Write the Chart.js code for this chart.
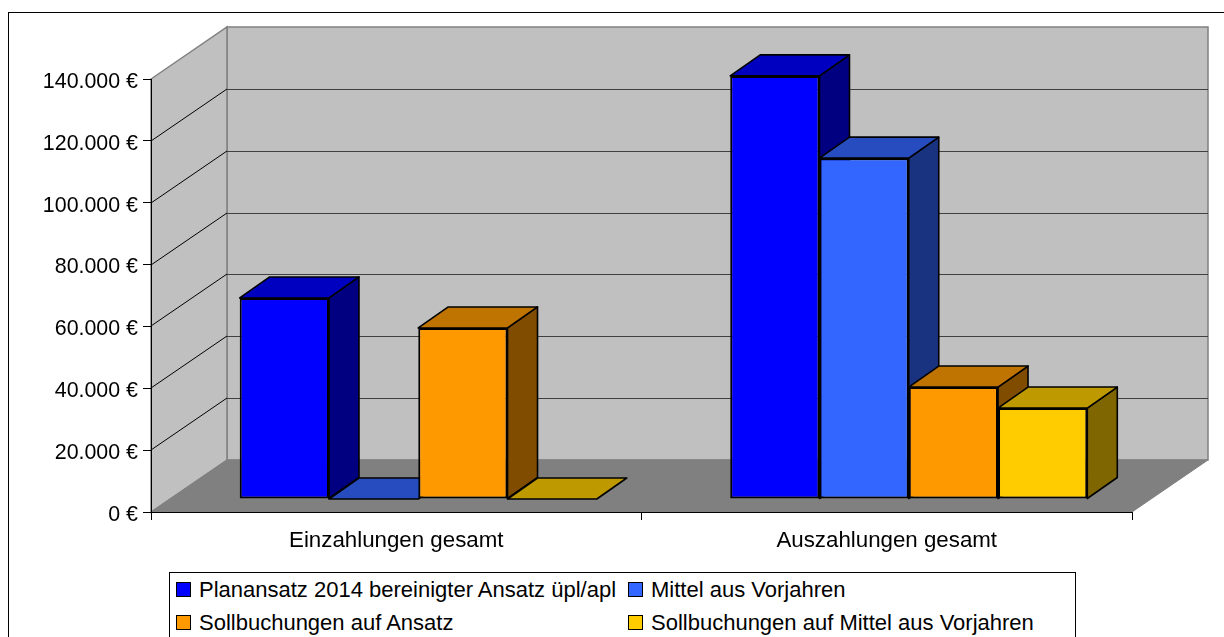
<!DOCTYPE html>
<html>
<head>
<meta charset="utf-8">
<script src="https://cdn.jsdelivr.net/npm/chart.js@4"></script>
<style>
  html, body { margin: 0; padding: 0; background: #fff; width: 1224px; height: 637px; overflow: hidden; }
  #frame { position: absolute; left: 8px; top: 12px; width: 1400px; height: 800px; border: 1px solid #000; }
  canvas { position: absolute; left: 0; top: 0; }
  #legend { position: absolute; left: 169px; top: 572px; width: 905px; height: 80px; border: 1px solid #000; background: #fff;
    font: 22px "Liberation Sans", Arial, sans-serif; color: #000; }
  #legend div { position: absolute; white-space: nowrap; line-height: 24px; }
  #legend i { position: absolute; left: -23px; top: 4px; width: 13px; height: 13px; border: 1px solid #000; }
</style>
</head>
<body>
<div id="frame"></div>
<canvas id="chart" width="1224" height="637"></canvas>
<div id="legend"></div>
<script>
// values
const categories = ['Einzahlungen gesamt', 'Auszahlungen gesamt'];
const seriesNames = ['Planansatz 2014 bereinigter Ansatz üpl/apl', 'Mittel aus Vorjahren', 'Sollbuchungen auf Ansatz', 'Sollbuchungen auf Mittel aus Vorjahren'];
const planansatz = [65000, 136800];
const mittelVorjahre = [0, 110200];
const sollAnsatz = [55300, 36200];
const sollMittel = [0, 29400];
const seriesValues = [planansatz, mittelVorjahre, sollAnsatz, sollMittel];

const frontColors = ['#0000ff', '#3366ff', '#ff9900', '#ffcc00'];
const topColors = ['#0000c0', '#264cbf', '#bf7300', '#bf9900'];
const sideColors = ['#000080', '#1a3380', '#804c00', '#806600'];

// fake 3d geometry, in pixels
const wallDepth = { x: 76, y: -52 };
const barShift = { x: 22, y: -13 };
const barDepth = { x: 30, y: -21 };

function poly(ctx, pts, fill, stroke, width) {
  ctx.beginPath();
  pts.forEach((p, i) => i ? ctx.lineTo(p[0], p[1]) : ctx.moveTo(p[0], p[1]));
  ctx.closePath();
  if (fill) { ctx.fillStyle = fill; ctx.fill(); }
  if (stroke) { ctx.strokeStyle = stroke; ctx.lineWidth = width; ctx.stroke(); }
}

const walls = {
  id: 'walls',
  beforeDraw(chart) {
    const ctx = chart.ctx, x = chart.scales.x, y = chart.scales.y;
    const l = x.left, r = x.right, b = y.getPixelForValue(0), t = y.getPixelForValue(140000);
    const dx = wallDepth.x, dy = wallDepth.y;
    ctx.save();
    poly(ctx, [[l + dx, t + dy], [r + dx, t + dy], [r + dx, b + dy], [l + dx, b + dy]], '#c0c0c0', '#808080', 1.5);
    poly(ctx, [[l, t], [l + dx, t + dy], [l + dx, b + dy], [l, b]], '#c0c0c0', '#808080', 1.5);
    poly(ctx, [[l, b], [l + dx, b + dy], [r + dx, b + dy], [r, b]], '#808080', '#808080', 1);
    y.ticks.forEach(tick => {
      if (tick.value === 0 || tick.value === 140000) return;
      const py = Math.round(y.getPixelForValue(tick.value));
      ctx.beginPath();
      ctx.moveTo(l, py);
      ctx.lineTo(l + dx, py + dy);
      ctx.strokeStyle = '#000';
      ctx.lineWidth = 1;
      ctx.stroke();
      ctx.beginPath();
      ctx.moveTo(l + dx, py + dy + 0.5);
      ctx.lineTo(r + dx, py + dy + 0.5);
      ctx.strokeStyle = '#404040';
      ctx.lineWidth = 1.2;
      ctx.stroke();
    });
    ctx.restore();
  }
};

// draws bars left to right, each with its top and side face behind the front
const bars3d = {
  id: 'bars3d',
  beforeDatasetsDraw(chart) {
    const ctx = chart.ctx, dx = barDepth.x, dy = barDepth.y;
    ctx.save();
    ctx.translate(barShift.x, barShift.y);
    chart.data.datasets.forEach((ds, i) => {
      const meta = chart.getDatasetMeta(i);
      meta.data.forEach(bar => {
        const l = bar.x - bar.width / 2, r = bar.x + bar.width / 2, t = bar.y, b = bar.base;
        ctx.lineJoin = 'round';
        if (b - t > 0.5) {
          poly(ctx, [[r, t], [r + dx, t + dy], [r + dx, b + dy], [r, b]], sideColors[i], '#000', 1.6);
        }
        poly(ctx, [[l, t], [r, t], [r + dx, t + dy], [l + dx, t + dy]], topColors[i], '#000', 1.6);
      });
      meta.controller.draw();
    });
    ctx.restore();
    return false;
  }
};

new Chart(document.getElementById('chart'), {
  type: 'bar',
  data: {
    labels: categories,
    datasets: seriesNames.map((name, i) => ({
      label: name,
      data: seriesValues[i],
      backgroundColor: frontColors[i],
      borderColor: '#000',
      borderWidth: 2,
      borderSkipped: false,
      categoryPercentage: 0.728,
      barPercentage: 1
    }))
  },
  options: {
    responsive: false,
    animation: false,
    layout: { padding: { left: 0, right: 92, top: 79, bottom: 0 } },
    plugins: { legend: { display: false }, title: { display: false }, tooltip: { enabled: false } },
    scales: {
      x: {
        grid: { offset: true, drawOnChartArea: false, color: '#000', tickLength: 8 },
        border: { color: '#000', width: 1 },
        ticks: { color: '#000', padding: 7, font: { family: '"Liberation Sans"', size: 22.3 } },
        afterFit(scale) { scale.height = 125; }
      },
      y: {
        min: 0,
        max: 140000,
        grid: { drawOnChartArea: false, color: '#000', tickLength: 8 },
        border: { color: '#000', width: 1 },
        ticks: {
          stepSize: 20000,
          color: '#000',
          padding: 5,
          labelOffset: 3,
          font: { family: '"Liberation Sans"', size: 21.4 },
          callback: v => v.toLocaleString('de-DE') + ' €'
        },
        afterFit(scale) { scale.width = 151; }
      }
    }
  },
  plugins: [walls, bars3d]
});

// legend, two columns
const legendSpots = [[29, 5], [481, 5], [29, 38], [481, 38]];
seriesNames.forEach((name, i) => {
  const item = document.createElement('div');
  item.style.left = legendSpots[i][0] + 'px';
  item.style.top = legendSpots[i][1] + 'px';
  item.innerHTML = '<i style="background:' + frontColors[i] + '"></i>' + name;
  document.getElementById('legend').appendChild(item);
});
</script>
</body>
</html>
